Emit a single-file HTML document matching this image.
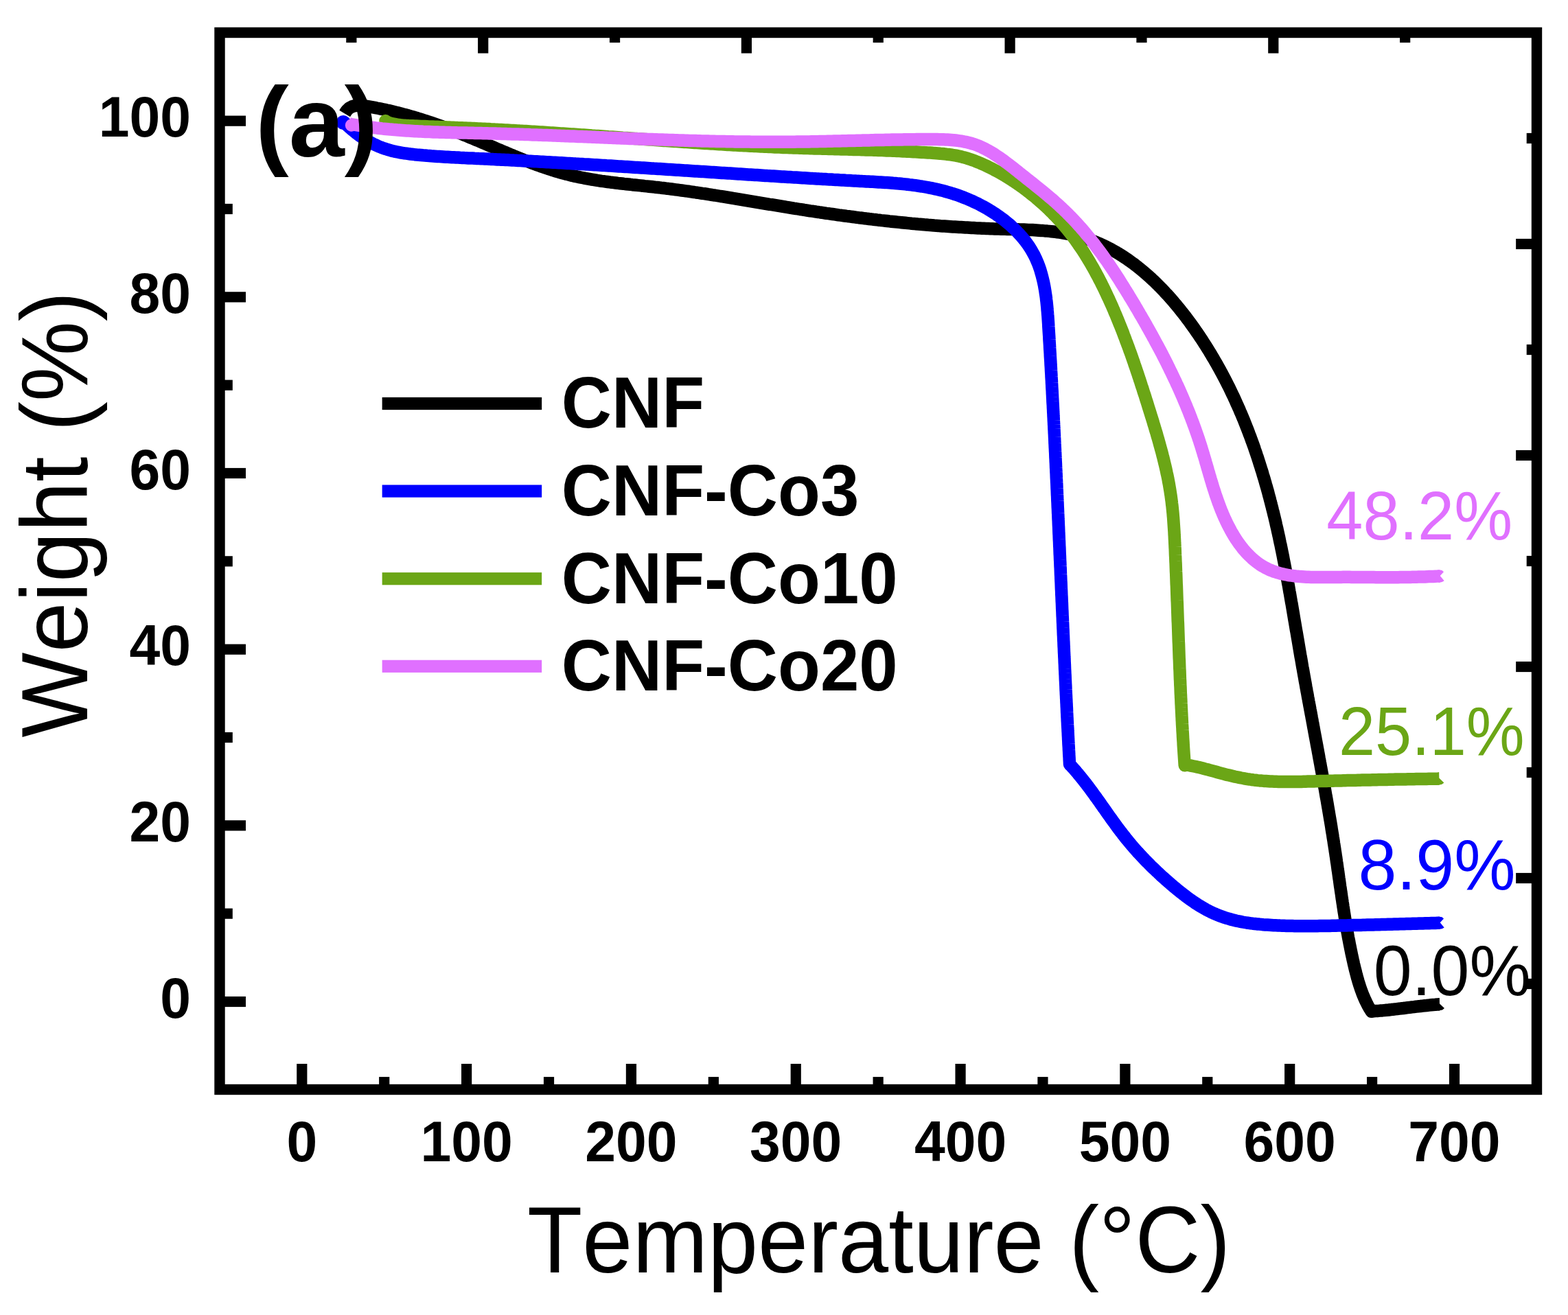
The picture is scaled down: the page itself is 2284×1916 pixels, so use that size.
<!DOCTYPE html>
<html><head><meta charset="utf-8"><title>TGA</title>
<style>
html,body{margin:0;padding:0;background:#fff;}
svg{display:block;}
text{font-family:"Liberation Sans",Arial,sans-serif;font-kerning:none;}
</style></head><body>
<svg width="2284" height="1916" viewBox="0 0 2284 1916">
<rect width="2284" height="1916" fill="#fff"/>
<g fill="none" stroke-width="18.5" stroke-linejoin="round" stroke-linecap="butt"><path d="M502.2,165.5 504.0,162.5 505.9,160.1 508.0,158.1 510.3,156.6 512.6,155.4 515.1,154.6 517.7,154.0 520.4,153.7 523.1,153.7 525.9,153.8 528.7,154.1 531.6,154.5 534.5,154.9 537.4,155.4 540.3,155.9 543.2,156.4 546.1,156.9 548.9,157.5 551.8,158.0 554.7,158.6 557.6,159.2 560.5,159.8 563.4,160.5 566.3,161.1 569.2,161.8 572.1,162.5 575.0,163.2 577.9,163.9 580.8,164.6 583.7,165.4 586.6,166.2 589.5,166.9 592.3,167.7 595.2,168.5 598.1,169.4 601.0,170.2 603.9,171.0 606.8,171.9 609.6,172.8 612.5,173.7 615.4,174.6 618.3,175.5 621.1,176.4 624.0,177.4 626.9,178.3 629.7,179.3 632.6,180.3 635.4,181.3 638.3,182.3 641.2,183.3 644.0,184.3 646.9,185.3 649.7,186.4 652.5,187.4 655.4,188.5 658.2,189.6 661.0,190.7 663.9,191.8 666.7,192.9 669.5,194.0 672.3,195.1 675.1,196.3 677.9,197.4 680.7,198.5 683.5,199.7 686.3,200.9 689.1,202.0 691.9,203.2 694.7,204.4 697.5,205.5 700.3,206.7 703.1,207.9 705.8,209.1 708.6,210.3 711.4,211.5 714.2,212.7 717.0,213.8 719.7,215.0 722.5,216.2 725.3,217.4 728.1,218.6 730.8,219.8 733.6,220.9 736.4,222.1 739.2,223.3 742.0,224.4 744.7,225.6 747.5,226.7 750.3,227.9 753.1,229.0 755.9,230.1 758.6,231.3 761.4,232.4 764.2,233.5 767.0,234.6 769.8,235.6 772.6,236.7 775.4,237.8 778.2,238.8 781.0,239.8 783.8,240.9 786.6,241.9 789.5,242.8 792.3,243.8 795.1,244.8 797.9,245.7 800.8,246.6 803.6,247.6 806.4,248.4 809.3,249.3 812.1,250.2 815.0,251.0 817.8,251.8 820.7,252.6 823.6,253.4 826.5,254.1 829.3,254.8 832.2,255.6 835.1,256.2 838.0,256.9 840.9,257.5 843.8,258.1 846.8,258.7 849.7,259.3 852.6,259.9 855.5,260.4 858.5,260.9 861.4,261.5 864.4,261.9 867.3,262.4 870.3,262.9 873.2,263.3 876.2,263.8 879.2,264.2 882.1,264.6 885.1,265.0 888.1,265.4 891.1,265.8 894.1,266.1 897.1,266.5 900.0,266.9 903.0,267.2 906.0,267.5 909.0,267.9 912.0,268.2 915.0,268.5 918.0,268.8 921.0,269.2 924.0,269.5 927.0,269.8 930.0,270.1 933.0,270.4 936.0,270.7 939.0,271.1 942.1,271.4 945.1,271.7 948.1,272.0 951.1,272.3 954.1,272.7 957.1,273.0 960.1,273.3 963.1,273.7 966.1,274.0 969.1,274.4 972.1,274.8 975.1,275.1 978.1,275.5 981.1,275.9 984.1,276.3 987.1,276.7 990.1,277.1 993.1,277.5 996.1,277.9 999.1,278.3 1002.1,278.7 1005.0,279.2 1008.0,279.6 1011.0,280.0 1014.0,280.5 1017.0,280.9 1020.0,281.3 1023.0,281.8 1026.0,282.2 1028.9,282.7 1031.9,283.2 1034.9,283.6 1037.9,284.1 1040.9,284.5 1043.9,285.0 1046.8,285.5 1049.8,286.0 1052.8,286.4 1055.8,286.9 1058.7,287.4 1061.7,287.9 1064.7,288.4 1067.7,288.9 1070.6,289.3 1073.6,289.8 1076.6,290.3 1079.6,290.8 1082.5,291.3 1085.5,291.8 1088.5,292.3 1091.4,292.8 1094.4,293.3 1097.4,293.8 1100.3,294.3 1103.3,294.8 1106.3,295.3 1109.2,295.8 1112.2,296.3 1115.2,296.8 1118.1,297.3 1121.1,297.8 1124.0,298.2 1127.0,298.7 1130.0,299.2 1132.9,299.7 1135.9,300.2 1138.8,300.7 1141.8,301.2 1144.8,301.7 1147.7,302.1 1150.7,302.6 1153.6,303.1 1156.6,303.6 1159.5,304.0 1162.5,304.5 1165.4,305.0 1168.4,305.4 1171.4,305.9 1174.3,306.3 1177.3,306.8 1180.2,307.3 1183.2,307.7 1186.1,308.1 1189.1,308.6 1192.0,309.0 1195.0,309.5 1197.9,309.9 1200.9,310.3 1203.8,310.8 1206.8,311.2 1209.7,311.6 1212.7,312.0 1215.6,312.4 1218.6,312.8 1221.5,313.3 1224.5,313.7 1227.4,314.1 1230.4,314.5 1233.3,314.9 1236.3,315.2 1239.2,315.6 1242.2,316.0 1245.1,316.4 1248.1,316.8 1251.0,317.2 1254.0,317.5 1256.9,317.9 1259.9,318.3 1262.8,318.6 1265.8,319.0 1268.7,319.3 1271.7,319.7 1274.7,320.0 1277.6,320.4 1280.6,320.7 1283.5,321.1 1286.5,321.4 1289.5,321.7 1292.4,322.0 1295.4,322.4 1298.3,322.7 1301.3,323.0 1304.3,323.3 1307.3,323.6 1310.2,323.9 1313.2,324.2 1316.2,324.5 1319.1,324.8 1322.1,325.1 1325.1,325.4 1328.1,325.7 1331.0,325.9 1334.0,326.2 1337.0,326.5 1340.0,326.7 1343.0,327.0 1346.0,327.3 1348.9,327.5 1351.9,327.8 1354.9,328.0 1357.9,328.2 1360.9,328.5 1363.9,328.7 1366.9,328.9 1369.9,329.2 1372.9,329.4 1375.9,329.6 1378.9,329.8 1381.9,330.0 1384.9,330.2 1388.0,330.4 1391.0,330.6 1394.0,330.8 1397.0,331.0 1400.0,331.1 1403.0,331.3 1406.1,331.5 1409.1,331.6 1412.1,331.8 1415.2,332.0 1418.2,332.1 1421.2,332.3 1424.3,332.4 1427.3,332.5 1430.4,332.7 1433.4,332.8 1436.5,332.9 1439.5,333.0 1442.6,333.2 1445.6,333.3 1448.7,333.4 1451.8,333.5 1454.8,333.6 1457.9,333.7 1461.0,333.7 1464.0,333.8 1467.1,333.9 1470.2,334.0 1473.3,334.1 1476.3,334.1 1479.4,334.2 1482.5,334.3 1485.6,334.4 1488.7,334.5 1491.7,334.6 1494.8,334.7 1497.9,334.9 1500.9,335.0 1504.0,335.1 1507.0,335.3 1510.1,335.5 1513.1,335.7 1516.2,335.9 1519.2,336.1 1522.2,336.4 1525.3,336.6 1528.3,336.9 1531.3,337.2 1534.3,337.5 1537.3,337.9 1540.2,338.3 1543.2,338.7 1546.2,339.1 1549.1,339.6 1552.0,340.1 1555.0,340.7 1557.9,341.2 1560.8,341.8 1563.6,342.5 1566.5,343.1 1569.4,343.9 1572.2,344.6 1575.0,345.4 1577.8,346.2 1580.6,347.1 1583.4,348.0 1586.2,349.0 1588.9,349.9 1591.7,351.0 1594.4,352.0 1597.1,353.1 1599.8,354.3 1602.5,355.4 1605.1,356.6 1607.8,357.9 1610.4,359.1 1613.0,360.4 1615.6,361.8 1618.2,363.1 1620.7,364.5 1623.3,366.0 1625.8,367.4 1628.4,368.9 1630.9,370.5 1633.4,372.0 1635.9,373.6 1638.3,375.2 1640.8,376.9 1643.2,378.5 1645.6,380.3 1648.0,382.0 1650.4,383.7 1652.8,385.5 1655.2,387.3 1657.5,389.2 1659.8,391.0 1662.2,392.9 1664.5,394.8 1666.7,396.7 1669.0,398.7 1671.3,400.7 1673.5,402.7 1675.8,404.7 1678.0,406.8 1680.2,408.8 1682.4,410.9 1684.5,413.0 1686.7,415.1 1688.8,417.3 1691.0,419.5 1693.1,421.6 1695.2,423.8 1697.2,426.1 1699.3,428.3 1701.4,430.6 1703.4,432.8 1705.4,435.1 1707.5,437.4 1709.4,439.7 1711.4,442.1 1713.4,444.4 1715.4,446.8 1717.3,449.1 1719.2,451.5 1721.1,453.9 1723.0,456.3 1724.9,458.7 1726.8,461.2 1728.6,463.6 1730.5,466.1 1732.3,468.5 1734.1,471.0 1735.9,473.5 1737.7,476.0 1739.5,478.5 1741.2,481.0 1742.9,483.5 1744.7,486.0 1746.4,488.5 1748.1,491.1 1749.8,493.6 1751.4,496.1 1753.1,498.7 1754.7,501.2 1756.4,503.8 1758.0,506.4 1759.6,508.9 1761.2,511.5 1762.7,514.1 1764.3,516.7 1765.8,519.3 1767.4,521.9 1768.9,524.5 1770.4,527.1 1771.9,529.7 1773.4,532.3 1774.8,534.9 1776.3,537.6 1777.7,540.2 1779.2,542.8 1780.6,545.5 1782.0,548.1 1783.4,550.8 1784.8,553.4 1786.1,556.1 1787.5,558.8 1788.8,561.4 1790.2,564.1 1791.5,566.8 1792.8,569.5 1794.1,572.2 1795.4,574.9 1796.7,577.6 1797.9,580.3 1799.2,583.0 1800.4,585.7 1801.6,588.5 1802.9,591.2 1804.1,593.9 1805.3,596.6 1806.4,599.4 1807.6,602.1 1808.8,604.9 1809.9,607.6 1811.1,610.4 1812.2,613.1 1813.3,615.9 1814.4,618.7 1815.5,621.4 1816.6,624.2 1817.7,627.0 1818.8,629.8 1819.8,632.6 1820.9,635.4 1821.9,638.2 1822.9,641.0 1824.0,643.8 1825.0,646.6 1826.0,649.4 1827.0,652.2 1827.9,655.0 1828.9,657.8 1829.9,660.7 1830.8,663.5 1831.8,666.3 1832.7,669.2 1833.6,672.0 1834.5,674.8 1835.4,677.7 1836.3,680.5 1837.2,683.4 1838.1,686.2 1839.0,689.1 1839.8,692.0 1840.7,694.8 1841.6,697.7 1842.4,700.6 1843.2,703.4 1844.0,706.3 1844.9,709.2 1845.7,712.1 1846.5,714.9 1847.3,717.8 1848.0,720.7 1848.8,723.6 1849.6,726.5 1850.3,729.4 1851.1,732.3 1851.8,735.2 1852.6,738.1 1853.3,741.0 1854.0,743.9 1854.8,746.8 1855.5,749.8 1856.2,752.7 1856.9,755.6 1857.6,758.5 1858.3,761.4 1858.9,764.4 1859.6,767.3 1860.3,770.2 1860.9,773.1 1861.6,776.1 1862.2,779.0 1862.9,781.9 1863.5,784.9 1864.1,787.8 1864.7,790.8 1865.4,793.7 1866.0,796.6 1866.6,799.6 1867.2,802.5 1867.8,805.5 1868.4,808.4 1869.0,811.4 1869.5,814.3 1870.1,817.3 1870.7,820.3 1871.3,823.2 1871.8,826.2 1872.4,829.1 1872.9,832.1 1873.5,835.1 1874.1,838.0 1874.6,841.0 1875.1,843.9 1875.7,846.9 1876.2,849.9 1876.8,852.8 1877.3,855.8 1877.8,858.8 1878.3,861.8 1878.9,864.7 1879.4,867.7 1879.9,870.7 1880.4,873.6 1880.9,876.6 1881.5,879.6 1882.0,882.6 1882.5,885.5 1883.0,888.5 1883.5,891.5 1884.0,894.4 1884.5,897.4 1885.0,900.4 1885.5,903.4 1886.0,906.3 1886.5,909.3 1887.0,912.3 1887.5,915.3 1888.0,918.2 1888.6,921.2 1889.1,924.2 1889.6,927.2 1890.1,930.1 1890.6,933.1 1891.1,936.1 1891.6,939.0 1892.1,942.0 1892.6,945.0 1893.1,948.0 1893.6,950.9 1894.1,953.9 1894.6,956.9 1895.2,959.8 1895.7,962.8 1896.2,965.8 1896.7,968.7 1897.2,971.7 1897.8,974.7 1898.3,977.6 1898.8,980.6 1899.3,983.5 1899.9,986.5 1900.4,989.5 1900.9,992.4 1901.5,995.4 1902.0,998.3 1902.5,1001.3 1903.1,1004.2 1903.6,1007.2 1904.2,1010.2 1904.7,1013.1 1905.2,1016.1 1905.8,1019.0 1906.3,1022.0 1906.9,1024.9 1907.4,1027.9 1908.0,1030.8 1908.5,1033.8 1909.1,1036.7 1909.6,1039.7 1910.2,1042.6 1910.7,1045.6 1911.3,1048.5 1911.8,1051.5 1912.4,1054.4 1912.9,1057.4 1913.4,1060.3 1914.0,1063.3 1914.5,1066.2 1915.1,1069.2 1915.6,1072.1 1916.2,1075.1 1916.7,1078.0 1917.3,1081.0 1917.8,1083.9 1918.4,1086.9 1918.9,1089.8 1919.5,1092.8 1920.0,1095.7 1920.6,1098.7 1921.1,1101.6 1921.6,1104.6 1922.2,1107.5 1922.7,1110.5 1923.3,1113.4 1923.8,1116.4 1924.3,1119.3 1924.9,1122.3 1925.4,1125.2 1926.0,1128.2 1926.5,1131.1 1927.0,1134.1 1927.6,1137.0 1928.1,1140.0 1928.6,1142.9 1929.1,1145.9 1929.7,1148.8 1930.2,1151.8 1930.7,1154.7 1931.2,1157.7 1931.7,1160.6 1932.3,1163.6 1932.8,1166.5 1933.3,1169.5 1933.8,1172.4 1934.3,1175.4 1934.8,1178.3 1935.3,1181.3 1935.8,1184.3 1936.3,1187.2 1936.8,1190.2 1937.3,1193.1 1937.8,1196.1 1938.3,1199.1 1938.8,1202.0 1939.3,1205.0 1939.7,1207.9 1940.2,1210.9 1940.7,1213.9 1941.2,1216.8 1941.6,1219.8 1942.1,1222.8 1942.6,1225.7 1943.0,1228.7 1943.5,1231.7 1943.9,1234.6 1944.4,1237.6 1944.8,1240.6 1945.3,1243.6 1945.7,1246.5 1946.2,1249.5 1946.6,1252.5 1947.0,1255.5 1947.5,1258.4 1947.9,1261.4 1948.3,1264.4 1948.7,1267.4 1949.2,1270.3 1949.6,1273.3 1950.0,1276.3 1950.4,1279.3 1950.9,1282.3 1951.3,1285.2 1951.7,1288.2 1952.1,1291.2 1952.6,1294.2 1953.0,1297.2 1953.4,1300.1 1953.9,1303.1 1954.3,1306.1 1954.7,1309.1 1955.2,1312.0 1955.6,1315.0 1956.1,1318.0 1956.5,1321.0 1957.0,1324.0 1957.4,1326.9 1957.9,1329.9 1958.4,1332.9 1958.8,1335.8 1959.3,1338.8 1959.8,1341.8 1960.3,1344.7 1960.8,1347.7 1961.3,1350.7 1961.8,1353.6 1962.3,1356.6 1962.9,1359.6 1963.4,1362.5 1963.9,1365.5 1964.5,1368.4 1965.1,1371.4 1965.6,1374.3 1966.2,1377.3 1966.8,1380.2 1967.4,1383.2 1968.0,1386.1 1968.6,1389.1 1969.2,1392.0 1969.9,1395.0 1970.5,1397.9 1971.2,1400.8 1971.8,1403.8 1972.5,1406.7 1973.2,1409.6 1973.9,1412.5 1974.7,1415.5 1975.4,1418.4 1976.2,1421.3 1976.9,1424.2 1977.8,1427.1 1978.6,1430.0 1979.5,1432.8 1980.4,1435.7 1981.3,1438.5 1982.3,1441.4 1983.3,1444.2 1984.3,1447.0 1985.4,1449.7 1986.6,1452.5 1987.7,1455.2 1989.0,1458.0 1990.3,1460.6 1991.6,1463.3 1993.0,1466.0 1994.5,1468.6 1996.1,1471.2 1997.7,1473.7 2001.1,1473.3 2004.2,1473.1 2007.3,1472.9 2010.4,1472.6 2013.5,1472.4 2016.6,1472.1 2019.7,1471.8 2022.8,1471.5 2025.8,1471.1 2028.9,1470.8 2032.0,1470.4 2035.1,1470.1 2038.2,1469.7 2041.3,1469.3 2044.3,1469.0 2047.4,1468.6 2050.5,1468.2 2053.6,1467.8 2056.7,1467.4 2059.7,1467.1 2062.8,1466.7 2065.9,1466.3 2069.0,1466.0 2072.1,1465.6 2075.2,1465.3 2078.2,1465.0 2081.3,1464.6 2084.4,1464.3 2087.5,1464.0 2090.6,1463.8 2093.7,1463.5 2096.8,1463.3" stroke="#000000"/><polygon points="2095.3,1454.0 2096.8,1454.0 2096.8,1462.3 2104.0,1469.1 2101.0,1471.5 2095.3,1472.6" fill="#000000" stroke="none"/><path d="M500.4,177.4 502.6,179.7 504.9,181.8 507.2,184.0 509.5,186.1 511.8,188.1 514.2,190.1 516.6,192.0 519.0,193.9 521.4,195.8 523.8,197.6 526.3,199.3 528.8,201.0 531.3,202.6 533.8,204.2 536.4,205.7 539.0,207.2 541.6,208.6 544.2,209.9 546.9,211.2 549.5,212.4 552.2,213.6 555.0,214.6 557.7,215.7 560.5,216.6 563.3,217.5 566.1,218.4 568.9,219.2 571.8,219.9 574.6,220.6 577.5,221.2 580.4,221.8 583.3,222.4 586.3,222.9 589.2,223.3 592.2,223.7 595.1,224.1 598.1,224.5 601.1,224.8 604.1,225.2 607.1,225.5 610.1,225.7 613.1,226.0 616.1,226.3 619.1,226.5 622.1,226.8 625.1,227.0 628.1,227.3 631.1,227.5 634.1,227.7 637.1,227.9 640.1,228.1 643.1,228.3 646.1,228.5 649.1,228.7 652.1,228.8 655.2,229.0 658.2,229.2 661.2,229.3 664.2,229.5 667.2,229.6 670.2,229.8 673.3,229.9 676.3,230.1 679.3,230.2 682.3,230.4 685.3,230.5 688.3,230.6 691.4,230.8 694.4,230.9 697.4,231.1 700.4,231.2 703.4,231.3 706.4,231.5 709.4,231.6 712.5,231.8 715.5,231.9 718.5,232.1 721.5,232.2 724.5,232.4 727.5,232.5 730.5,232.7 733.5,232.8 736.5,233.0 739.5,233.1 742.6,233.3 745.6,233.4 748.6,233.6 751.6,233.7 754.6,233.9 757.6,234.0 760.6,234.2 763.6,234.4 766.6,234.5 769.6,234.7 772.6,234.8 775.6,235.0 778.6,235.2 781.6,235.3 784.6,235.5 787.6,235.7 790.6,235.8 793.6,236.0 796.6,236.2 799.6,236.3 802.6,236.5 805.6,236.7 808.6,236.8 811.6,237.0 814.6,237.2 817.6,237.3 820.6,237.5 823.6,237.7 826.6,237.9 829.6,238.0 832.6,238.2 835.6,238.4 838.6,238.6 841.6,238.7 844.6,238.9 847.6,239.1 850.6,239.3 853.6,239.4 856.6,239.6 859.6,239.8 862.6,240.0 865.6,240.2 868.6,240.3 871.6,240.5 874.6,240.7 877.6,240.9 880.6,241.1 883.6,241.3 886.6,241.4 889.6,241.6 892.6,241.8 895.6,242.0 898.6,242.2 901.5,242.4 904.5,242.5 907.5,242.7 910.5,242.9 913.5,243.1 916.5,243.3 919.5,243.5 922.5,243.7 925.5,243.9 928.5,244.0 931.5,244.2 934.5,244.4 937.5,244.6 940.5,244.8 943.5,245.0 946.5,245.2 949.5,245.4 952.5,245.6 955.5,245.7 958.5,245.9 961.5,246.1 964.5,246.3 967.5,246.5 970.5,246.7 973.5,246.9 976.5,247.1 979.5,247.3 982.5,247.5 985.5,247.7 988.5,247.8 991.5,248.0 994.5,248.2 997.5,248.4 1000.5,248.6 1003.5,248.8 1006.5,249.0 1009.5,249.2 1012.5,249.4 1015.5,249.6 1018.5,249.8 1021.5,250.0 1024.5,250.1 1027.5,250.3 1030.5,250.5 1033.5,250.7 1036.5,250.9 1039.5,251.1 1042.5,251.3 1045.5,251.5 1048.5,251.7 1051.5,251.9 1054.5,252.1 1057.5,252.3 1060.5,252.5 1063.5,252.6 1066.5,252.8 1069.5,253.0 1072.6,253.2 1075.6,253.4 1078.6,253.6 1081.6,253.8 1084.6,254.0 1087.6,254.2 1090.6,254.4 1093.6,254.5 1096.6,254.7 1099.6,254.9 1102.7,255.1 1105.7,255.3 1108.7,255.5 1111.7,255.7 1114.7,255.9 1117.7,256.1 1120.7,256.2 1123.7,256.4 1126.7,256.6 1129.8,256.8 1132.8,257.0 1135.8,257.2 1138.8,257.4 1141.8,257.5 1144.8,257.7 1147.8,257.9 1150.8,258.1 1153.8,258.3 1156.9,258.4 1159.9,258.6 1162.9,258.8 1165.9,259.0 1168.9,259.2 1171.9,259.3 1174.9,259.5 1177.9,259.7 1180.9,259.9 1183.9,260.1 1187.0,260.2 1190.0,260.4 1193.0,260.6 1196.0,260.7 1199.0,260.9 1202.0,261.1 1205.0,261.3 1208.0,261.4 1211.0,261.6 1214.0,261.8 1217.0,261.9 1220.0,262.1 1223.0,262.3 1226.0,262.4 1229.0,262.6 1232.0,262.8 1235.0,262.9 1238.0,263.1 1241.0,263.3 1244.0,263.4 1247.0,263.6 1250.0,263.7 1253.0,263.9 1256.0,264.1 1259.0,264.2 1262.0,264.4 1265.0,264.5 1268.0,264.7 1271.0,264.8 1274.0,265.0 1277.0,265.2 1279.9,265.4 1282.9,265.5 1285.9,265.7 1288.9,265.9 1291.9,266.1 1294.8,266.3 1297.8,266.5 1300.8,266.8 1303.8,267.0 1306.7,267.3 1309.7,267.5 1312.7,267.8 1315.6,268.1 1318.6,268.4 1321.6,268.7 1324.5,269.1 1327.5,269.4 1330.4,269.8 1333.4,270.2 1336.3,270.6 1339.3,271.1 1342.2,271.5 1345.2,272.0 1348.1,272.5 1351.0,273.0 1354.0,273.6 1356.9,274.1 1359.8,274.7 1362.7,275.4 1365.6,276.0 1368.5,276.7 1371.5,277.4 1374.4,278.2 1377.3,279.0 1380.2,279.8 1383.1,280.6 1385.9,281.5 1388.8,282.4 1391.7,283.3 1394.6,284.3 1397.5,285.3 1400.3,286.4 1403.2,287.5 1406.0,288.6 1408.9,289.8 1411.7,291.0 1414.6,292.2 1417.4,293.5 1420.2,294.8 1423.0,296.1 1425.8,297.5 1428.5,299.0 1431.3,300.4 1434.0,301.9 1436.7,303.4 1439.4,305.0 1442.0,306.6 1444.7,308.2 1447.3,309.9 1449.9,311.6 1452.4,313.3 1455.0,315.1 1457.5,316.9 1460.0,318.7 1462.4,320.6 1464.8,322.5 1467.2,324.4 1469.5,326.3 1471.8,328.3 1474.0,330.4 1476.3,332.4 1478.4,334.5 1480.6,336.6 1482.6,338.8 1484.7,341.0 1486.7,343.2 1488.6,345.4 1490.5,347.7 1492.4,350.0 1494.2,352.3 1495.9,354.7 1497.6,357.0 1499.3,359.5 1500.8,361.9 1502.4,364.4 1503.8,366.9 1505.2,369.4 1506.6,372.0 1507.8,374.5 1509.1,377.2 1510.2,379.8 1511.3,382.4 1512.4,385.1 1513.4,387.8 1514.4,390.6 1515.3,393.3 1516.1,396.1 1516.9,398.9 1517.7,401.7 1518.4,404.5 1519.1,407.4 1519.8,410.2 1520.4,413.1 1521.0,416.0 1521.5,418.9 1522.0,421.8 1522.5,424.8 1522.9,427.7 1523.4,430.7 1523.8,433.6 1524.1,436.6 1524.5,439.6 1524.8,442.6 1525.1,445.6 1525.4,448.6 1525.6,451.7 1525.9,454.7 1526.1,457.7 1526.4,460.8 1526.6,463.8 1526.8,466.8 1527.0,469.9 1527.2,472.9 1527.3,476.0 1527.5,479.0 1527.7,482.1 1527.9,485.1 1528.1,488.2 1528.3,491.2 1528.4,494.3 1528.6,497.3 1528.8,500.3 1529.0,503.4 1529.1,506.4 1529.3,509.5 1529.5,512.5 1529.7,515.5 1529.8,518.6 1530.0,521.6 1530.2,524.6 1530.4,527.7 1530.5,530.7 1530.7,533.7 1530.9,536.8 1531.0,539.8 1531.2,542.8 1531.4,545.9 1531.5,548.9 1531.7,551.9 1531.9,554.9 1532.0,558.0 1532.2,561.0 1532.3,564.0 1532.5,567.0 1532.7,570.0 1532.8,573.1 1533.0,576.1 1533.1,579.1 1533.3,582.1 1533.4,585.1 1533.6,588.2 1533.8,591.2 1533.9,594.2 1534.1,597.2 1534.2,600.2 1534.4,603.2 1534.5,606.2 1534.7,609.3 1534.8,612.3 1535.0,615.3 1535.1,618.3 1535.3,621.3 1535.4,624.3 1535.6,627.3 1535.7,630.3 1535.9,633.3 1536.0,636.3 1536.2,639.3 1536.3,642.3 1536.4,645.4 1536.6,648.4 1536.7,651.4 1536.9,654.4 1537.0,657.4 1537.2,660.4 1537.3,663.4 1537.4,666.4 1537.6,669.4 1537.7,672.4 1537.9,675.4 1538.0,678.4 1538.1,681.4 1538.3,684.4 1538.4,687.4 1538.6,690.4 1538.7,693.4 1538.8,696.4 1539.0,699.4 1539.1,702.4 1539.3,705.4 1539.4,708.3 1539.5,711.3 1539.7,714.3 1539.8,717.3 1539.9,720.3 1540.1,723.3 1540.2,726.3 1540.3,729.3 1540.5,732.3 1540.6,735.3 1540.7,738.3 1540.9,741.3 1541.0,744.3 1541.1,747.3 1541.3,750.3 1541.4,753.2 1541.5,756.2 1541.7,759.2 1541.8,762.2 1541.9,765.2 1542.1,768.2 1542.2,771.2 1542.3,774.2 1542.4,777.2 1542.6,780.2 1542.7,783.2 1542.8,786.1 1543.0,789.1 1543.1,792.1 1543.2,795.1 1543.4,798.1 1543.5,801.1 1543.6,804.1 1543.7,807.1 1543.9,810.1 1544.0,813.1 1544.1,816.0 1544.3,819.0 1544.4,822.0 1544.5,825.0 1544.7,828.0 1544.8,831.0 1544.9,834.0 1545.0,837.0 1545.2,840.0 1545.3,843.0 1545.4,845.9 1545.6,848.9 1545.7,851.9 1545.8,854.9 1545.9,857.9 1546.1,860.9 1546.2,863.9 1546.3,866.9 1546.5,869.9 1546.6,872.9 1546.7,875.9 1546.9,878.9 1547.0,881.8 1547.1,884.8 1547.2,887.8 1547.4,890.8 1547.5,893.8 1547.6,896.8 1547.8,899.8 1547.9,902.8 1548.0,905.8 1548.2,908.8 1548.3,911.8 1548.4,914.8 1548.6,917.8 1548.7,920.8 1548.8,923.8 1549.0,926.8 1549.1,929.8 1549.2,932.8 1549.4,935.7 1549.5,938.7 1549.6,941.7 1549.8,944.7 1549.9,947.7 1550.0,950.7 1550.2,953.7 1550.3,956.7 1550.5,959.7 1550.6,962.7 1550.7,965.7 1550.9,968.7 1551.0,971.8 1551.1,974.8 1551.3,977.8 1551.4,980.8 1551.6,983.8 1551.7,986.8 1551.8,989.8 1552.0,992.8 1552.1,995.8 1552.3,998.8 1552.4,1001.8 1552.5,1004.8 1552.7,1007.8 1552.8,1010.8 1553.0,1013.8 1553.1,1016.9 1553.3,1019.9 1553.4,1022.9 1553.6,1025.9 1553.7,1028.9 1553.9,1031.9 1554.0,1034.9 1554.1,1038.0 1554.3,1041.0 1554.4,1044.0 1554.6,1047.0 1554.7,1050.0 1554.9,1053.0 1555.0,1056.1 1555.2,1059.1 1555.4,1062.1 1555.5,1065.1 1555.7,1068.2 1555.8,1071.2 1556.0,1074.2 1556.1,1077.2 1556.3,1080.3 1556.4,1083.3 1556.6,1086.3 1556.8,1089.3 1556.9,1092.4 1557.1,1095.4 1557.2,1098.4 1557.4,1101.5 1557.6,1104.5 1557.7,1107.5 1557.9,1110.6 1558.0,1113.6 1560.0,1115.6 1562.1,1117.9 1564.1,1120.1 1566.1,1122.4 1568.0,1124.7 1570.0,1127.0 1571.9,1129.3 1573.8,1131.6 1575.7,1134.0 1577.6,1136.3 1579.5,1138.7 1581.3,1141.1 1583.2,1143.5 1585.0,1145.9 1586.8,1148.3 1588.6,1150.7 1590.4,1153.1 1592.2,1155.6 1593.9,1158.0 1595.7,1160.5 1597.5,1162.9 1599.2,1165.4 1601.0,1167.8 1602.7,1170.3 1604.4,1172.8 1606.2,1175.2 1607.9,1177.7 1609.7,1180.2 1611.4,1182.6 1613.1,1185.1 1614.9,1187.6 1616.6,1190.0 1618.4,1192.5 1620.1,1194.9 1621.9,1197.4 1623.7,1199.8 1625.5,1202.3 1627.2,1204.7 1629.0,1207.1 1630.8,1209.5 1632.7,1211.9 1634.5,1214.3 1636.3,1216.7 1638.2,1219.0 1640.1,1221.4 1641.9,1223.7 1643.9,1226.1 1645.8,1228.4 1647.7,1230.7 1649.7,1233.0 1651.6,1235.2 1653.6,1237.5 1655.6,1239.8 1657.6,1242.0 1659.7,1244.2 1661.7,1246.4 1663.8,1248.6 1665.9,1250.8 1667.9,1253.0 1670.0,1255.1 1672.2,1257.3 1674.3,1259.4 1676.4,1261.6 1678.6,1263.7 1680.8,1265.8 1683.0,1267.9 1685.2,1270.0 1687.4,1272.0 1689.6,1274.1 1691.8,1276.2 1694.1,1278.2 1696.3,1280.2 1698.6,1282.3 1700.9,1284.3 1703.2,1286.3 1705.5,1288.3 1707.8,1290.2 1710.1,1292.2 1712.5,1294.2 1714.8,1296.1 1717.2,1298.0 1719.6,1299.9 1722.0,1301.8 1724.4,1303.7 1726.8,1305.5 1729.2,1307.3 1731.6,1309.1 1734.1,1310.9 1736.6,1312.6 1739.0,1314.3 1741.5,1316.0 1744.1,1317.6 1746.6,1319.3 1749.1,1320.8 1751.7,1322.3 1754.3,1323.8 1756.9,1325.3 1759.5,1326.7 1762.2,1328.0 1764.9,1329.3 1767.5,1330.6 1770.3,1331.7 1773.0,1332.9 1775.7,1334.0 1778.5,1335.0 1781.3,1336.0 1784.1,1337.0 1786.9,1337.9 1789.8,1338.7 1792.6,1339.5 1795.5,1340.3 1798.4,1341.0 1801.3,1341.7 1804.2,1342.3 1807.2,1342.9 1810.1,1343.5 1813.1,1344.0 1816.1,1344.5 1819.0,1344.9 1822.0,1345.3 1825.0,1345.7 1828.0,1346.0 1831.1,1346.4 1834.1,1346.6 1837.1,1346.9 1840.1,1347.2 1843.1,1347.4 1846.2,1347.6 1849.2,1347.8 1852.2,1348.0 1855.3,1348.2 1858.3,1348.3 1861.3,1348.4 1864.4,1348.6 1867.4,1348.7 1870.5,1348.8 1873.5,1348.9 1876.5,1349.0 1879.6,1349.0 1882.6,1349.1 1885.6,1349.2 1888.7,1349.2 1891.7,1349.2 1894.7,1349.3 1897.8,1349.3 1900.8,1349.3 1903.8,1349.3 1906.9,1349.3 1909.9,1349.3 1912.9,1349.2 1916.0,1349.2 1919.0,1349.2 1922.0,1349.1 1925.1,1349.1 1928.1,1349.0 1931.1,1349.0 1934.1,1348.9 1937.2,1348.9 1940.2,1348.8 1943.2,1348.8 1946.2,1348.7 1949.3,1348.6 1952.3,1348.6 1955.3,1348.5 1958.3,1348.4 1961.3,1348.4 1964.4,1348.3 1967.4,1348.2 1970.4,1348.1 1973.4,1348.1 1976.4,1348.0 1979.4,1347.9 1982.4,1347.9 1985.4,1347.8 1988.4,1347.7 1991.5,1347.6 1994.5,1347.6 1997.5,1347.5 2000.5,1347.4 2003.5,1347.3 2006.5,1347.2 2009.5,1347.2 2012.5,1347.1 2015.5,1347.0 2018.5,1346.9 2021.5,1346.8 2024.5,1346.8 2027.6,1346.7 2030.6,1346.6 2033.6,1346.5 2036.6,1346.4 2039.6,1346.3 2042.6,1346.3 2045.6,1346.2 2048.6,1346.1 2051.6,1346.0 2054.7,1345.9 2057.7,1345.8 2060.7,1345.8 2063.7,1345.7 2066.7,1345.6 2069.8,1345.5 2072.8,1345.4 2075.8,1345.3 2078.8,1345.2 2081.9,1345.2 2084.9,1345.1 2087.9,1345.0 2091.0,1344.9 2094.0,1344.8 2097.0,1344.7" stroke="#0000FF"/><polygon points="2095.5,1335.4 2100.5,1336.3 2103.0,1338.4 2097.7,1344.3 2103.7,1351.4 2100.5,1353.3 2095.5,1354.0" fill="#0000FF" stroke="none"/><circle cx="500" cy="178.5" r="10.5" fill="#0000FF" stroke="none"/><path d="M561.0,176.9 563.7,178.0 566.5,178.9 569.3,179.7 572.1,180.4 575.0,180.9 577.8,181.4 580.7,181.8 583.6,182.2 586.5,182.5 589.4,182.7 592.3,182.9 595.2,183.1 598.1,183.2 601.1,183.3 604.0,183.5 607.0,183.6 609.9,183.7 612.9,183.9 615.8,184.0 618.8,184.1 621.8,184.2 624.7,184.4 627.7,184.5 630.7,184.6 633.7,184.7 636.6,184.8 639.6,185.0 642.6,185.1 645.6,185.2 648.6,185.3 651.6,185.5 654.6,185.6 657.6,185.7 660.6,185.8 663.6,185.9 666.6,186.1 669.6,186.2 672.6,186.3 675.6,186.5 678.6,186.6 681.6,186.7 684.7,186.8 687.7,187.0 690.7,187.1 693.7,187.2 696.7,187.4 699.7,187.5 702.7,187.7 705.7,187.8 708.7,188.0 711.8,188.1 714.8,188.3 717.8,188.4 720.8,188.6 723.8,188.7 726.8,188.9 729.8,189.0 732.8,189.2 735.8,189.4 738.8,189.5 741.8,189.7 744.9,189.9 747.9,190.0 750.9,190.2 753.9,190.4 756.9,190.6 759.9,190.7 762.9,190.9 765.9,191.1 768.9,191.3 771.9,191.5 774.9,191.7 777.9,191.8 780.9,192.0 783.9,192.2 786.9,192.4 789.9,192.6 793.0,192.8 796.0,193.0 799.0,193.2 802.0,193.4 805.0,193.6 808.0,193.8 811.0,194.0 814.0,194.2 817.0,194.4 820.0,194.6 823.0,194.8 826.0,195.0 829.0,195.2 832.0,195.4 835.0,195.6 838.0,195.8 841.0,196.0 844.0,196.2 847.0,196.4 850.0,196.6 853.0,196.8 856.0,197.0 859.0,197.2 862.0,197.5 865.0,197.7 868.0,197.9 871.0,198.1 874.0,198.3 877.0,198.5 880.0,198.7 883.0,198.9 886.0,199.2 889.0,199.4 892.0,199.6 895.0,199.8 898.0,200.0 901.0,200.2 904.0,200.4 907.0,200.7 910.0,200.9 913.0,201.1 916.0,201.3 919.0,201.5 922.0,201.7 925.0,201.9 928.0,202.1 931.0,202.4 934.0,202.6 937.0,202.8 940.0,203.0 943.0,203.2 946.0,203.4 949.0,203.6 952.0,203.8 955.0,204.1 958.0,204.3 961.0,204.5 964.0,204.7 967.0,204.9 970.0,205.1 973.0,205.3 976.0,205.5 979.0,205.7 982.0,205.9 985.0,206.1 988.0,206.3 991.0,206.5 994.0,206.7 997.0,206.9 999.9,207.1 1002.9,207.3 1005.9,207.5 1008.9,207.7 1011.9,207.9 1014.9,208.1 1017.9,208.3 1020.9,208.5 1023.9,208.7 1026.9,208.9 1029.9,209.1 1032.9,209.2 1035.9,209.4 1038.9,209.6 1041.9,209.8 1044.9,210.0 1047.9,210.2 1050.9,210.3 1053.9,210.5 1056.9,210.7 1059.9,210.9 1062.9,211.0 1065.9,211.2 1068.9,211.4 1071.9,211.5 1074.9,211.7 1077.9,211.9 1080.9,212.0 1083.9,212.2 1086.9,212.3 1089.9,212.5 1092.9,212.7 1095.9,212.8 1098.9,213.0 1101.9,213.1 1104.9,213.3 1107.9,213.4 1110.9,213.5 1113.9,213.7 1116.9,213.8 1119.9,214.0 1122.9,214.1 1125.9,214.2 1128.9,214.4 1131.9,214.5 1134.9,214.6 1137.9,214.7 1140.9,214.9 1143.9,215.0 1146.9,215.1 1149.9,215.2 1152.9,215.3 1155.9,215.4 1158.9,215.5 1161.9,215.6 1164.9,215.7 1167.9,215.8 1170.9,215.9 1173.9,216.0 1177.0,216.1 1180.0,216.2 1183.0,216.3 1186.0,216.4 1189.0,216.4 1192.0,216.5 1195.0,216.6 1198.0,216.7 1201.0,216.8 1204.0,216.8 1207.0,216.9 1210.0,217.0 1213.0,217.1 1216.0,217.2 1219.0,217.2 1222.0,217.3 1225.0,217.4 1228.1,217.5 1231.1,217.5 1234.1,217.6 1237.1,217.7 1240.1,217.8 1243.1,217.9 1246.1,217.9 1249.1,218.0 1252.1,218.1 1255.1,218.2 1258.1,218.3 1261.2,218.4 1264.2,218.5 1267.2,218.5 1270.2,218.6 1273.2,218.7 1276.2,218.8 1279.2,218.9 1282.2,219.0 1285.3,219.1 1288.3,219.3 1291.3,219.4 1294.3,219.5 1297.3,219.6 1300.3,219.7 1303.4,219.8 1306.4,220.0 1309.4,220.1 1312.4,220.2 1315.4,220.4 1318.4,220.5 1321.5,220.7 1324.5,220.8 1327.5,221.0 1330.5,221.2 1333.5,221.3 1336.6,221.5 1339.6,221.7 1342.6,221.9 1345.6,222.0 1348.7,222.2 1351.7,222.4 1354.7,222.6 1357.7,222.8 1360.7,223.1 1363.8,223.3 1366.8,223.5 1369.8,223.8 1372.8,224.0 1375.8,224.3 1378.8,224.7 1381.8,225.0 1384.8,225.4 1387.8,225.9 1390.7,226.3 1393.7,226.9 1396.6,227.5 1399.5,228.1 1402.3,228.9 1405.2,229.6 1408.0,230.4 1410.9,231.3 1413.7,232.2 1416.5,233.2 1419.2,234.2 1422.0,235.3 1424.7,236.4 1427.5,237.5 1430.2,238.7 1432.9,239.9 1435.6,241.1 1438.3,242.4 1440.9,243.7 1443.6,245.0 1446.3,246.4 1448.9,247.8 1451.5,249.2 1454.2,250.6 1456.8,252.1 1459.4,253.6 1462.0,255.1 1464.6,256.6 1467.2,258.2 1469.7,259.8 1472.3,261.4 1474.8,263.0 1477.3,264.7 1479.8,266.4 1482.4,268.1 1484.8,269.8 1487.3,271.5 1489.8,273.3 1492.2,275.1 1494.6,276.9 1497.1,278.8 1499.5,280.6 1501.8,282.5 1504.2,284.4 1506.6,286.3 1508.9,288.2 1511.2,290.2 1513.5,292.2 1515.8,294.2 1518.1,296.2 1520.3,298.2 1522.6,300.3 1524.8,302.4 1527.0,304.4 1529.1,306.6 1531.3,308.7 1533.4,310.8 1535.5,313.0 1537.6,315.2 1539.7,317.4 1541.8,319.6 1543.8,321.8 1545.8,324.1 1547.8,326.3 1549.8,328.6 1551.7,330.9 1553.6,333.2 1555.5,335.6 1557.4,337.9 1559.3,340.3 1561.1,342.6 1562.9,345.0 1564.7,347.4 1566.5,349.8 1568.2,352.3 1569.9,354.7 1571.6,357.2 1573.3,359.6 1575.0,362.1 1576.7,364.6 1578.3,367.1 1579.9,369.6 1581.5,372.2 1583.1,374.7 1584.6,377.2 1586.2,379.8 1587.7,382.4 1589.2,385.0 1590.7,387.6 1592.2,390.2 1593.7,392.8 1595.1,395.4 1596.5,398.0 1597.9,400.7 1599.4,403.3 1600.7,406.0 1602.1,408.6 1603.5,411.3 1604.8,414.0 1606.2,416.7 1607.5,419.3 1608.8,422.0 1610.1,424.8 1611.4,427.5 1612.6,430.2 1613.9,432.9 1615.2,435.6 1616.4,438.4 1617.6,441.1 1618.9,443.9 1620.1,446.6 1621.3,449.4 1622.5,452.1 1623.6,454.9 1624.8,457.6 1626.0,460.4 1627.1,463.2 1628.3,466.0 1629.4,468.7 1630.5,471.5 1631.7,474.3 1632.8,477.1 1633.9,479.9 1635.0,482.7 1636.1,485.5 1637.1,488.3 1638.2,491.1 1639.3,494.0 1640.3,496.8 1641.4,499.6 1642.4,502.4 1643.5,505.2 1644.5,508.1 1645.5,510.9 1646.6,513.7 1647.6,516.6 1648.6,519.4 1649.6,522.3 1650.6,525.1 1651.6,527.9 1652.5,530.8 1653.5,533.6 1654.5,536.5 1655.5,539.4 1656.4,542.2 1657.4,545.1 1658.3,547.9 1659.3,550.8 1660.2,553.7 1661.2,556.5 1662.1,559.4 1663.0,562.3 1664.0,565.1 1664.9,568.0 1665.8,570.9 1666.7,573.7 1667.7,576.6 1668.6,579.5 1669.5,582.4 1670.4,585.2 1671.3,588.1 1672.2,591.0 1673.1,593.9 1674.0,596.8 1674.9,599.6 1675.8,602.5 1676.7,605.4 1677.6,608.3 1678.5,611.1 1679.4,614.0 1680.2,616.9 1681.1,619.8 1682.0,622.7 1682.8,625.6 1683.7,628.4 1684.6,631.3 1685.4,634.2 1686.2,637.1 1687.1,640.0 1687.9,642.9 1688.7,645.8 1689.5,648.7 1690.3,651.6 1691.1,654.5 1691.9,657.4 1692.7,660.3 1693.4,663.2 1694.2,666.1 1694.9,669.0 1695.6,671.9 1696.3,674.8 1697.0,677.7 1697.7,680.6 1698.4,683.6 1699.0,686.5 1699.6,689.4 1700.3,692.3 1700.9,695.3 1701.5,698.2 1702.0,701.1 1702.6,704.1 1703.1,707.0 1703.6,710.0 1704.1,712.9 1704.6,715.9 1705.0,718.9 1705.5,721.8 1705.9,724.8 1706.3,727.8 1706.7,730.7 1707.0,733.7 1707.4,736.7 1707.7,739.7 1708.0,742.7 1708.3,745.7 1708.6,748.6 1708.8,751.6 1709.1,754.6 1709.3,757.6 1709.5,760.6 1709.7,763.6 1709.9,766.7 1710.1,769.7 1710.3,772.7 1710.5,775.7 1710.6,778.7 1710.8,781.7 1710.9,784.7 1711.1,787.7 1711.2,790.7 1711.4,793.8 1711.5,796.8 1711.7,799.8 1711.8,802.8 1711.9,805.8 1712.0,808.8 1712.2,811.8 1712.3,814.8 1712.4,817.8 1712.6,820.9 1712.7,823.9 1712.8,826.9 1712.9,829.9 1713.0,832.9 1713.2,835.9 1713.3,838.9 1713.4,841.9 1713.5,844.9 1713.6,847.9 1713.7,850.9 1713.9,853.9 1714.0,857.0 1714.1,860.0 1714.2,863.0 1714.3,866.0 1714.4,869.0 1714.5,872.0 1714.6,875.0 1714.8,878.0 1714.9,881.0 1715.0,884.0 1715.1,887.0 1715.2,890.0 1715.3,893.0 1715.4,896.0 1715.5,899.0 1715.6,902.0 1715.7,905.0 1715.9,908.0 1716.0,911.0 1716.1,914.0 1716.2,917.0 1716.3,920.0 1716.4,923.0 1716.5,926.0 1716.6,929.0 1716.7,932.1 1716.8,935.1 1717.0,938.1 1717.1,941.1 1717.2,944.1 1717.3,947.1 1717.4,950.1 1717.5,953.1 1717.6,956.1 1717.7,959.1 1717.9,962.1 1718.0,965.1 1718.1,968.1 1718.2,971.1 1718.3,974.1 1718.5,977.1 1718.6,980.1 1718.7,983.1 1718.8,986.1 1718.9,989.1 1719.1,992.1 1719.2,995.1 1719.3,998.1 1719.5,1001.1 1719.6,1004.1 1719.7,1007.1 1719.8,1010.1 1720.0,1013.1 1720.1,1016.1 1720.3,1019.1 1720.4,1022.1 1720.5,1025.1 1720.7,1028.1 1720.8,1031.1 1721.0,1034.1 1721.1,1037.1 1721.3,1040.1 1721.4,1043.1 1721.6,1046.1 1721.7,1049.1 1721.9,1052.1 1722.0,1055.1 1722.2,1058.1 1722.4,1061.1 1722.5,1064.1 1722.7,1067.1 1722.9,1070.1 1723.0,1073.1 1723.2,1076.2 1723.4,1079.2 1723.6,1082.2 1723.7,1085.2 1723.9,1088.2 1724.1,1091.2 1724.3,1094.2 1724.5,1097.2 1724.7,1100.2 1724.9,1103.2 1725.1,1106.2 1725.3,1109.2 1725.5,1112.2 1725.7,1115.2 1728.9,1114.5 1731.8,1115.0 1734.7,1115.6 1737.7,1116.2 1740.6,1116.8 1743.5,1117.4 1746.4,1118.1 1749.4,1118.8 1752.3,1119.5 1755.2,1120.3 1758.1,1121.1 1761.0,1121.8 1763.9,1122.6 1766.9,1123.4 1769.8,1124.2 1772.7,1125.0 1775.6,1125.8 1778.5,1126.6 1781.5,1127.4 1784.4,1128.2 1787.3,1128.9 1790.3,1129.6 1793.2,1130.3 1796.2,1131.0 1799.1,1131.7 1802.1,1132.3 1805.0,1132.9 1808.0,1133.5 1811.0,1134.0 1813.9,1134.6 1816.9,1135.1 1819.9,1135.5 1822.9,1136.0 1825.9,1136.4 1828.9,1136.7 1831.9,1137.1 1834.9,1137.4 1837.9,1137.6 1841.0,1137.9 1844.0,1138.1 1847.0,1138.3 1850.0,1138.5 1853.1,1138.6 1856.1,1138.7 1859.1,1138.8 1862.2,1138.9 1865.2,1139.0 1868.3,1139.0 1871.3,1139.1 1874.4,1139.1 1877.4,1139.1 1880.5,1139.1 1883.5,1139.0 1886.6,1139.0 1889.6,1139.0 1892.7,1138.9 1895.7,1138.9 1898.8,1138.8 1901.8,1138.7 1904.9,1138.6 1907.9,1138.6 1911.0,1138.5 1914.0,1138.4 1917.1,1138.3 1920.1,1138.2 1923.2,1138.1 1926.2,1138.1 1929.3,1138.0 1932.3,1137.9 1935.4,1137.8 1938.4,1137.7 1941.5,1137.7 1944.5,1137.6 1947.5,1137.5 1950.6,1137.4 1953.6,1137.4 1956.6,1137.3 1959.7,1137.2 1962.7,1137.1 1965.8,1137.1 1968.8,1137.0 1971.8,1136.9 1974.9,1136.9 1977.9,1136.8 1980.9,1136.7 1984.0,1136.6 1987.0,1136.6 1990.0,1136.5 1993.0,1136.4 1996.1,1136.4 1999.1,1136.3 2002.1,1136.2 2005.2,1136.2 2008.2,1136.1 2011.2,1136.1 2014.3,1136.0 2017.3,1135.9 2020.3,1135.9 2023.3,1135.8 2026.4,1135.8 2029.4,1135.7 2032.4,1135.6 2035.5,1135.6 2038.5,1135.5 2041.5,1135.5 2044.6,1135.4 2047.6,1135.4 2050.6,1135.3 2053.7,1135.3 2056.7,1135.2 2059.7,1135.2 2062.8,1135.1 2065.8,1135.1 2068.8,1135.0 2071.9,1135.0 2074.9,1134.9 2077.9,1134.9 2081.0,1134.8 2084.0,1134.8 2087.1,1134.7 2090.1,1134.7 2093.2,1134.7 2096.2,1134.6" stroke="#6BA616"/><polygon points="2094.7,1125.2 2096.2,1125.2 2096.2,1133.6 2103.4,1140.4 2100.4,1142.8 2094.7,1143.9" fill="#6BA616" stroke="none"/><circle cx="561.5" cy="176" r="9.3" fill="#6BA616" stroke="none"/><path d="M508.8,180.4 511.8,181.0 514.8,181.5 517.7,182.0 520.7,182.5 523.7,183.0 526.7,183.5 529.7,183.9 532.6,184.4 535.6,184.8 538.6,185.2 541.6,185.6 544.6,186.0 547.6,186.4 550.5,186.7 553.5,187.0 556.5,187.4 559.5,187.7 562.5,188.0 565.5,188.3 568.5,188.6 571.5,188.8 574.5,189.1 577.5,189.3 580.5,189.6 583.4,189.8 586.4,190.0 589.4,190.2 592.4,190.4 595.4,190.6 598.4,190.8 601.4,191.0 604.4,191.2 607.4,191.3 610.4,191.5 613.4,191.6 616.4,191.8 619.4,191.9 622.4,192.0 625.4,192.1 628.4,192.2 631.4,192.4 634.4,192.5 637.5,192.6 640.5,192.7 643.5,192.7 646.5,192.8 649.5,192.9 652.5,193.0 655.5,193.1 658.5,193.2 661.5,193.2 664.5,193.3 667.5,193.4 670.5,193.4 673.5,193.5 676.5,193.6 679.5,193.6 682.6,193.7 685.6,193.8 688.6,193.8 691.6,193.9 694.6,194.0 697.6,194.0 700.6,194.1 703.6,194.2 706.6,194.2 709.6,194.3 712.6,194.4 715.6,194.5 718.7,194.6 721.7,194.6 724.7,194.7 727.7,194.8 730.7,194.9 733.7,195.0 736.7,195.1 739.7,195.2 742.7,195.3 745.7,195.4 748.7,195.4 751.7,195.5 754.8,195.6 757.8,195.7 760.8,195.8 763.8,195.9 766.8,196.0 769.8,196.1 772.8,196.3 775.8,196.4 778.8,196.5 781.8,196.6 784.8,196.7 787.8,196.8 790.9,196.9 793.9,197.0 796.9,197.1 799.9,197.2 802.9,197.3 805.9,197.5 808.9,197.6 811.9,197.7 814.9,197.8 817.9,197.9 820.9,198.0 823.9,198.2 826.9,198.3 830.0,198.4 833.0,198.5 836.0,198.6 839.0,198.7 842.0,198.9 845.0,199.0 848.0,199.1 851.0,199.2 854.0,199.3 857.0,199.5 860.0,199.6 863.0,199.7 866.0,199.8 869.1,199.9 872.1,200.1 875.1,200.2 878.1,200.3 881.1,200.4 884.1,200.6 887.1,200.7 890.1,200.8 893.1,200.9 896.1,201.0 899.1,201.2 902.1,201.3 905.1,201.4 908.1,201.5 911.2,201.6 914.2,201.7 917.2,201.9 920.2,202.0 923.2,202.1 926.2,202.2 929.2,202.3 932.2,202.4 935.2,202.5 938.2,202.7 941.2,202.8 944.2,202.9 947.2,203.0 950.2,203.1 953.3,203.2 956.3,203.3 959.3,203.4 962.3,203.5 965.3,203.6 968.3,203.7 971.3,203.8 974.3,203.9 977.3,204.0 980.3,204.1 983.3,204.2 986.3,204.3 989.3,204.4 992.3,204.5 995.3,204.6 998.3,204.7 1001.4,204.8 1004.4,204.9 1007.4,205.0 1010.4,205.0 1013.4,205.1 1016.4,205.2 1019.4,205.3 1022.4,205.4 1025.4,205.4 1028.4,205.5 1031.4,205.6 1034.4,205.7 1037.4,205.7 1040.4,205.8 1043.4,205.9 1046.4,205.9 1049.5,206.0 1052.5,206.0 1055.5,206.1 1058.5,206.2 1061.5,206.2 1064.5,206.3 1067.5,206.3 1070.5,206.4 1073.5,206.4 1076.5,206.5 1079.5,206.5 1082.5,206.5 1085.5,206.6 1088.5,206.6 1091.5,206.6 1094.5,206.7 1097.5,206.7 1100.6,206.7 1103.6,206.7 1106.6,206.8 1109.6,206.8 1112.6,206.8 1115.6,206.8 1118.6,206.8 1121.6,206.8 1124.6,206.8 1127.6,206.8 1130.6,206.8 1133.6,206.8 1136.6,206.8 1139.6,206.8 1142.6,206.8 1145.6,206.8 1148.6,206.7 1151.6,206.7 1154.6,206.7 1157.7,206.7 1160.7,206.6 1163.7,206.6 1166.7,206.6 1169.7,206.5 1172.7,206.5 1175.7,206.4 1178.7,206.4 1181.7,206.3 1184.7,206.3 1187.7,206.2 1190.7,206.2 1193.7,206.1 1196.7,206.0 1199.7,206.0 1202.7,205.9 1205.7,205.8 1208.7,205.8 1211.7,205.7 1214.8,205.6 1217.8,205.6 1220.8,205.5 1223.8,205.4 1226.8,205.3 1229.8,205.3 1232.8,205.2 1235.8,205.1 1238.8,205.0 1241.8,205.0 1244.8,204.9 1247.8,204.8 1250.8,204.7 1253.8,204.7 1256.8,204.6 1259.9,204.5 1262.9,204.4 1265.9,204.4 1268.9,204.3 1271.9,204.2 1274.9,204.1 1277.9,204.1 1280.9,204.0 1283.9,203.9 1286.9,203.9 1289.9,203.8 1293.0,203.8 1296.0,203.7 1299.0,203.6 1302.0,203.6 1305.0,203.5 1308.0,203.5 1311.0,203.4 1314.0,203.4 1317.1,203.3 1320.1,203.3 1323.1,203.3 1326.1,203.2 1329.1,203.2 1332.1,203.2 1335.2,203.1 1338.2,203.1 1341.2,203.1 1344.2,203.1 1347.2,203.1 1350.2,203.1 1353.3,203.1 1356.3,203.1 1359.3,203.1 1362.3,203.1 1365.3,203.1 1368.3,203.2 1371.4,203.2 1374.4,203.3 1377.4,203.4 1380.3,203.6 1383.3,203.8 1386.3,204.0 1389.3,204.2 1392.2,204.5 1395.1,204.9 1398.1,205.3 1401.0,205.7 1403.8,206.3 1406.7,206.8 1409.6,207.5 1412.4,208.2 1415.2,209.0 1418.0,209.8 1420.8,210.7 1423.5,211.8 1426.2,212.9 1428.9,214.0 1431.6,215.3 1434.3,216.6 1436.9,217.9 1439.5,219.4 1442.1,220.8 1444.7,222.4 1447.3,224.0 1449.8,225.6 1452.3,227.3 1454.9,229.0 1457.4,230.7 1459.9,232.5 1462.4,234.3 1464.8,236.2 1467.3,238.0 1469.8,239.9 1472.2,241.8 1474.7,243.7 1477.1,245.6 1479.5,247.5 1482.0,249.4 1484.4,251.4 1486.8,253.3 1489.2,255.2 1491.6,257.1 1494.0,259.0 1496.4,260.9 1498.8,262.8 1501.2,264.7 1503.6,266.6 1506.0,268.5 1508.4,270.4 1510.7,272.3 1513.1,274.2 1515.4,276.1 1517.8,278.0 1520.1,279.9 1522.4,281.8 1524.7,283.8 1527.0,285.7 1529.3,287.7 1531.6,289.6 1533.9,291.6 1536.1,293.5 1538.3,295.5 1540.6,297.5 1542.8,299.5 1545.0,301.6 1547.2,303.6 1549.3,305.6 1551.5,307.7 1553.6,309.8 1555.7,311.9 1557.8,314.0 1559.9,316.1 1562.0,318.2 1564.0,320.4 1566.1,322.6 1568.1,324.8 1570.1,327.0 1572.1,329.2 1574.1,331.4 1576.0,333.6 1578.0,335.9 1579.9,338.2 1581.8,340.5 1583.7,342.8 1585.6,345.1 1587.5,347.4 1589.4,349.7 1591.2,352.1 1593.1,354.4 1594.9,356.8 1596.7,359.2 1598.5,361.6 1600.3,364.0 1602.1,366.4 1603.9,368.8 1605.7,371.2 1607.4,373.7 1609.1,376.1 1610.9,378.6 1612.6,381.0 1614.3,383.5 1616.0,386.0 1617.7,388.5 1619.4,391.0 1621.1,393.5 1622.7,396.0 1624.4,398.5 1626.0,401.0 1627.7,403.6 1629.3,406.1 1630.9,408.7 1632.5,411.2 1634.1,413.8 1635.7,416.3 1637.3,418.9 1638.9,421.5 1640.5,424.0 1642.1,426.6 1643.7,429.2 1645.2,431.8 1646.8,434.4 1648.4,437.0 1649.9,439.5 1651.5,442.1 1653.0,444.7 1654.5,447.3 1656.1,449.9 1657.6,452.5 1659.1,455.1 1660.6,457.8 1662.2,460.4 1663.7,463.0 1665.2,465.6 1666.7,468.2 1668.2,470.8 1669.7,473.4 1671.1,476.1 1672.6,478.7 1674.1,481.3 1675.6,484.0 1677.0,486.6 1678.5,489.2 1679.9,491.9 1681.4,494.5 1682.8,497.2 1684.2,499.8 1685.7,502.5 1687.1,505.1 1688.5,507.8 1689.9,510.4 1691.3,513.1 1692.7,515.7 1694.1,518.4 1695.4,521.1 1696.8,523.8 1698.2,526.4 1699.5,529.1 1700.8,531.8 1702.2,534.5 1703.5,537.2 1704.8,539.9 1706.1,542.6 1707.4,545.3 1708.7,548.0 1710.0,550.7 1711.3,553.4 1712.6,556.1 1713.8,558.9 1715.1,561.6 1716.3,564.3 1717.6,567.0 1718.8,569.8 1720.0,572.5 1721.2,575.3 1722.4,578.0 1723.6,580.8 1724.7,583.5 1725.9,586.3 1727.1,589.1 1728.2,591.8 1729.3,594.6 1730.5,597.4 1731.6,600.2 1732.7,603.0 1733.8,605.8 1734.9,608.6 1735.9,611.4 1737.0,614.2 1738.0,617.0 1739.1,619.8 1740.1,622.6 1741.1,625.4 1742.1,628.3 1743.1,631.1 1744.1,634.0 1745.1,636.8 1746.0,639.7 1747.0,642.5 1747.9,645.4 1748.8,648.2 1749.7,651.1 1750.6,654.0 1751.5,656.9 1752.4,659.8 1753.2,662.7 1754.1,665.5 1755.0,668.4 1755.8,671.3 1756.6,674.2 1757.5,677.1 1758.3,680.0 1759.2,683.0 1760.0,685.9 1760.9,688.8 1761.7,691.7 1762.6,694.6 1763.4,697.5 1764.3,700.4 1765.2,703.3 1766.0,706.2 1766.9,709.0 1767.8,711.9 1768.8,714.8 1769.7,717.7 1770.6,720.6 1771.6,723.4 1772.6,726.3 1773.6,729.1 1774.6,732.0 1775.7,734.8 1776.7,737.6 1777.8,740.5 1778.9,743.3 1780.1,746.1 1781.2,748.9 1782.4,751.7 1783.6,754.4 1784.9,757.2 1786.2,759.9 1787.5,762.7 1788.9,765.4 1790.2,768.1 1791.7,770.8 1793.1,773.5 1794.6,776.1 1796.1,778.7 1797.7,781.3 1799.3,783.9 1800.9,786.4 1802.6,788.9 1804.3,791.4 1806.1,793.8 1807.9,796.1 1809.7,798.5 1811.6,800.8 1813.5,803.0 1815.4,805.2 1817.4,807.3 1819.5,809.4 1821.6,811.4 1823.7,813.4 1825.9,815.3 1828.1,817.1 1830.3,818.9 1832.6,820.6 1835.0,822.3 1837.4,823.8 1839.8,825.3 1842.3,826.7 1844.8,828.0 1847.4,829.3 1850.0,830.5 1852.7,831.5 1855.4,832.6 1858.2,833.5 1861.0,834.4 1863.8,835.2 1866.7,835.9 1869.6,836.6 1872.5,837.2 1875.5,837.8 1878.5,838.3 1881.5,838.7 1884.5,839.1 1887.6,839.5 1890.7,839.8 1893.8,840.1 1896.9,840.3 1900.0,840.5 1903.2,840.7 1906.3,840.8 1909.5,840.9 1912.6,841.0 1915.8,841.1 1919.0,841.1 1922.2,841.1 1925.3,841.1 1928.5,841.1 1931.7,841.1 1934.8,841.0 1938.0,841.0 1941.1,841.0 1944.2,840.9 1947.4,840.9 1950.5,840.9 1953.5,840.9 1956.6,840.8 1959.6,840.8 1962.7,840.8 1965.7,840.8 1968.7,840.9 1971.7,840.9 1974.6,840.9 1977.6,840.9 1980.6,840.9 1983.5,841.0 1986.5,841.0 1989.4,841.0 1992.4,841.1 1995.3,841.1 1998.2,841.1 2001.2,841.1 2004.1,841.2 2007.0,841.2 2010.0,841.2 2012.9,841.2 2015.9,841.2 2018.8,841.2 2021.7,841.2 2024.7,841.2 2027.6,841.2 2030.6,841.2 2033.6,841.2 2036.5,841.2 2039.5,841.1 2042.5,841.1 2045.4,841.1 2048.4,841.0 2051.4,841.0 2054.4,840.9 2057.4,840.8 2060.4,840.8 2063.4,840.7 2066.4,840.6 2069.4,840.5 2072.5,840.5 2075.5,840.4 2078.6,840.2 2081.6,840.1 2084.7,840.0 2087.8,839.9 2090.9,839.7 2094.0,839.6 2097.1,839.4" stroke="#E070FF"/><polygon points="2095.5,830.1 2100.5,831.0 2103.0,833.2 2097.7,839.1 2103.7,846.2 2100.5,848.1 2095.5,848.9" fill="#E070FF" stroke="none"/><circle cx="512" cy="182.5" r="9.2" fill="#E070FF" stroke="none"/></g>
<g fill="#000"><rect x="320.0" y="1451.90" width="38.0" height="15.2"/><rect x="320.0" y="1323.57" width="18.8" height="15.2"/><rect x="320.0" y="1195.23" width="38.0" height="15.2"/><rect x="320.0" y="1066.90" width="18.8" height="15.2"/><rect x="320.0" y="938.57" width="38.0" height="15.2"/><rect x="320.0" y="810.24" width="18.8" height="15.2"/><rect x="320.0" y="681.90" width="38.0" height="15.2"/><rect x="320.0" y="553.57" width="18.8" height="15.2"/><rect x="320.0" y="425.24" width="38.0" height="15.2"/><rect x="320.0" y="296.90" width="18.8" height="15.2"/><rect x="320.0" y="168.57" width="38.0" height="15.2"/><rect x="432.20" y="1550.0" width="15.2" height="37.5"/><rect x="552.11" y="1569.1" width="15.2" height="18.4"/><rect x="672.01" y="1550.0" width="15.2" height="37.5"/><rect x="791.92" y="1569.1" width="15.2" height="18.4"/><rect x="911.83" y="1550.0" width="15.2" height="37.5"/><rect x="1031.74" y="1569.1" width="15.2" height="18.4"/><rect x="1151.64" y="1550.0" width="15.2" height="37.5"/><rect x="1271.55" y="1569.1" width="15.2" height="18.4"/><rect x="1391.46" y="1550.0" width="15.2" height="37.5"/><rect x="1511.36" y="1569.1" width="15.2" height="18.4"/><rect x="1631.27" y="1550.0" width="15.2" height="37.5"/><rect x="1751.18" y="1569.1" width="15.2" height="18.4"/><rect x="1871.08" y="1550.0" width="15.2" height="37.5"/><rect x="1990.99" y="1569.1" width="15.2" height="18.4"/><rect x="2110.90" y="1550.0" width="15.2" height="37.5"/><rect x="504.25" y="47.5" width="15.2" height="14.6"/><rect x="2223.70" y="193.90" width="14.80" height="15.2"/><rect x="696.10" y="47.5" width="15.2" height="30.1"/><rect x="2208.15" y="347.90" width="30.35" height="15.2"/><rect x="887.95" y="47.5" width="15.2" height="14.6"/><rect x="2223.70" y="501.90" width="14.80" height="15.2"/><rect x="1079.80" y="47.5" width="15.2" height="30.1"/><rect x="2208.15" y="655.90" width="30.35" height="15.2"/><rect x="1271.65" y="47.5" width="15.2" height="14.6"/><rect x="2223.70" y="809.90" width="14.80" height="15.2"/><rect x="1463.50" y="47.5" width="15.2" height="30.1"/><rect x="2208.15" y="963.90" width="30.35" height="15.2"/><rect x="1655.35" y="47.5" width="15.2" height="14.6"/><rect x="2223.70" y="1117.90" width="14.80" height="15.2"/><rect x="1847.20" y="47.5" width="15.2" height="30.1"/><rect x="2208.15" y="1271.90" width="30.35" height="15.2"/><rect x="2039.05" y="47.5" width="15.2" height="14.6"/><rect x="2223.70" y="1425.90" width="14.80" height="15.2"/></g>
<rect x="320.0" y="47.5" width="1918.5" height="1540.0" fill="none" stroke="#000" stroke-width="15.4"/>
<rect x="556.65" y="578.9" width="232.5" height="18.2" fill="#000000"/><rect x="556.65" y="706.5" width="232.5" height="18.2" fill="#0000FF"/><rect x="556.65" y="834.1" width="232.5" height="18.2" fill="#6BA616"/><rect x="556.65" y="961.7" width="232.5" height="18.2" fill="#E070FF"/>
<text transform="translate(278.00,1482.60) scale(1,1.0407)" font-size="80.5" font-weight="bold" text-anchor="end" fill="#000">0</text><text transform="translate(278.00,1225.93) scale(1,1.0407)" font-size="80.5" font-weight="bold" text-anchor="end" fill="#000">20</text><text transform="translate(278.00,969.27) scale(1,1.0407)" font-size="80.5" font-weight="bold" text-anchor="end" fill="#000">40</text><text transform="translate(278.00,712.60) scale(1,1.0407)" font-size="80.5" font-weight="bold" text-anchor="end" fill="#000">60</text><text transform="translate(278.00,455.94) scale(1,1.0407)" font-size="80.5" font-weight="bold" text-anchor="end" fill="#000">80</text><text transform="translate(278.00,199.27) scale(1,1.0407)" font-size="80.5" font-weight="bold" text-anchor="end" fill="#000">100</text><text transform="translate(439.80,1692.40) scale(1,1.0407)" font-size="80.5" font-weight="bold" text-anchor="middle" fill="#000">0</text><text transform="translate(679.61,1692.40) scale(1,1.0407)" font-size="80.5" font-weight="bold" text-anchor="middle" fill="#000">100</text><text transform="translate(919.43,1692.40) scale(1,1.0407)" font-size="80.5" font-weight="bold" text-anchor="middle" fill="#000">200</text><text transform="translate(1159.24,1692.40) scale(1,1.0407)" font-size="80.5" font-weight="bold" text-anchor="middle" fill="#000">300</text><text transform="translate(1399.06,1692.40) scale(1,1.0407)" font-size="80.5" font-weight="bold" text-anchor="middle" fill="#000">400</text><text transform="translate(1638.87,1692.40) scale(1,1.0407)" font-size="80.5" font-weight="bold" text-anchor="middle" fill="#000">500</text><text transform="translate(1878.68,1692.40) scale(1,1.0407)" font-size="80.5" font-weight="bold" text-anchor="middle" fill="#000">600</text><text transform="translate(2118.50,1692.40) scale(1,1.0407)" font-size="80.5" font-weight="bold" text-anchor="middle" fill="#000">700</text><text transform="translate(768.00,1853.80) scale(1,1.0407)" font-size="131.5" fill="#000">Temperature (°C)</text><text transform="translate(126.90,1074.60) rotate(-90) scale(1,1.0407)" font-size="131.5" fill="#000">Weight (%)</text><text transform="translate(372.30,227.60)" font-size="145.5" font-weight="bold" fill="#000">(a)</text><text transform="translate(817.70,623.30) scale(1,1.0407)" font-size="101.4" font-weight="bold" fill="#000">CNF</text><text transform="translate(817.70,750.90) scale(1,1.0407)" font-size="101.4" font-weight="bold" fill="#000">CNF-Co3</text><text transform="translate(817.70,878.50) scale(1,1.0407)" font-size="101.4" font-weight="bold" fill="#000">CNF-Co10</text><text transform="translate(817.70,1006.10) scale(1,1.0407)" font-size="101.4" font-weight="bold" fill="#000">CNF-Co20</text><text transform="translate(1932.30,786.30) scale(1,1.0407)" font-size="95.5" fill="#E070FF">48.2%</text><text transform="translate(1950.00,1100.30) scale(1,1.0407)" font-size="95.5" fill="#6BA616">25.1%</text><text transform="translate(1978.50,1295.70) scale(1,1.0407)" font-size="100.5" fill="#0000FF">8.9%</text><text transform="translate(2000.70,1449.70) scale(1,1.0407)" font-size="100.5" fill="#000">0.0%</text>
</svg>
</body></html>
